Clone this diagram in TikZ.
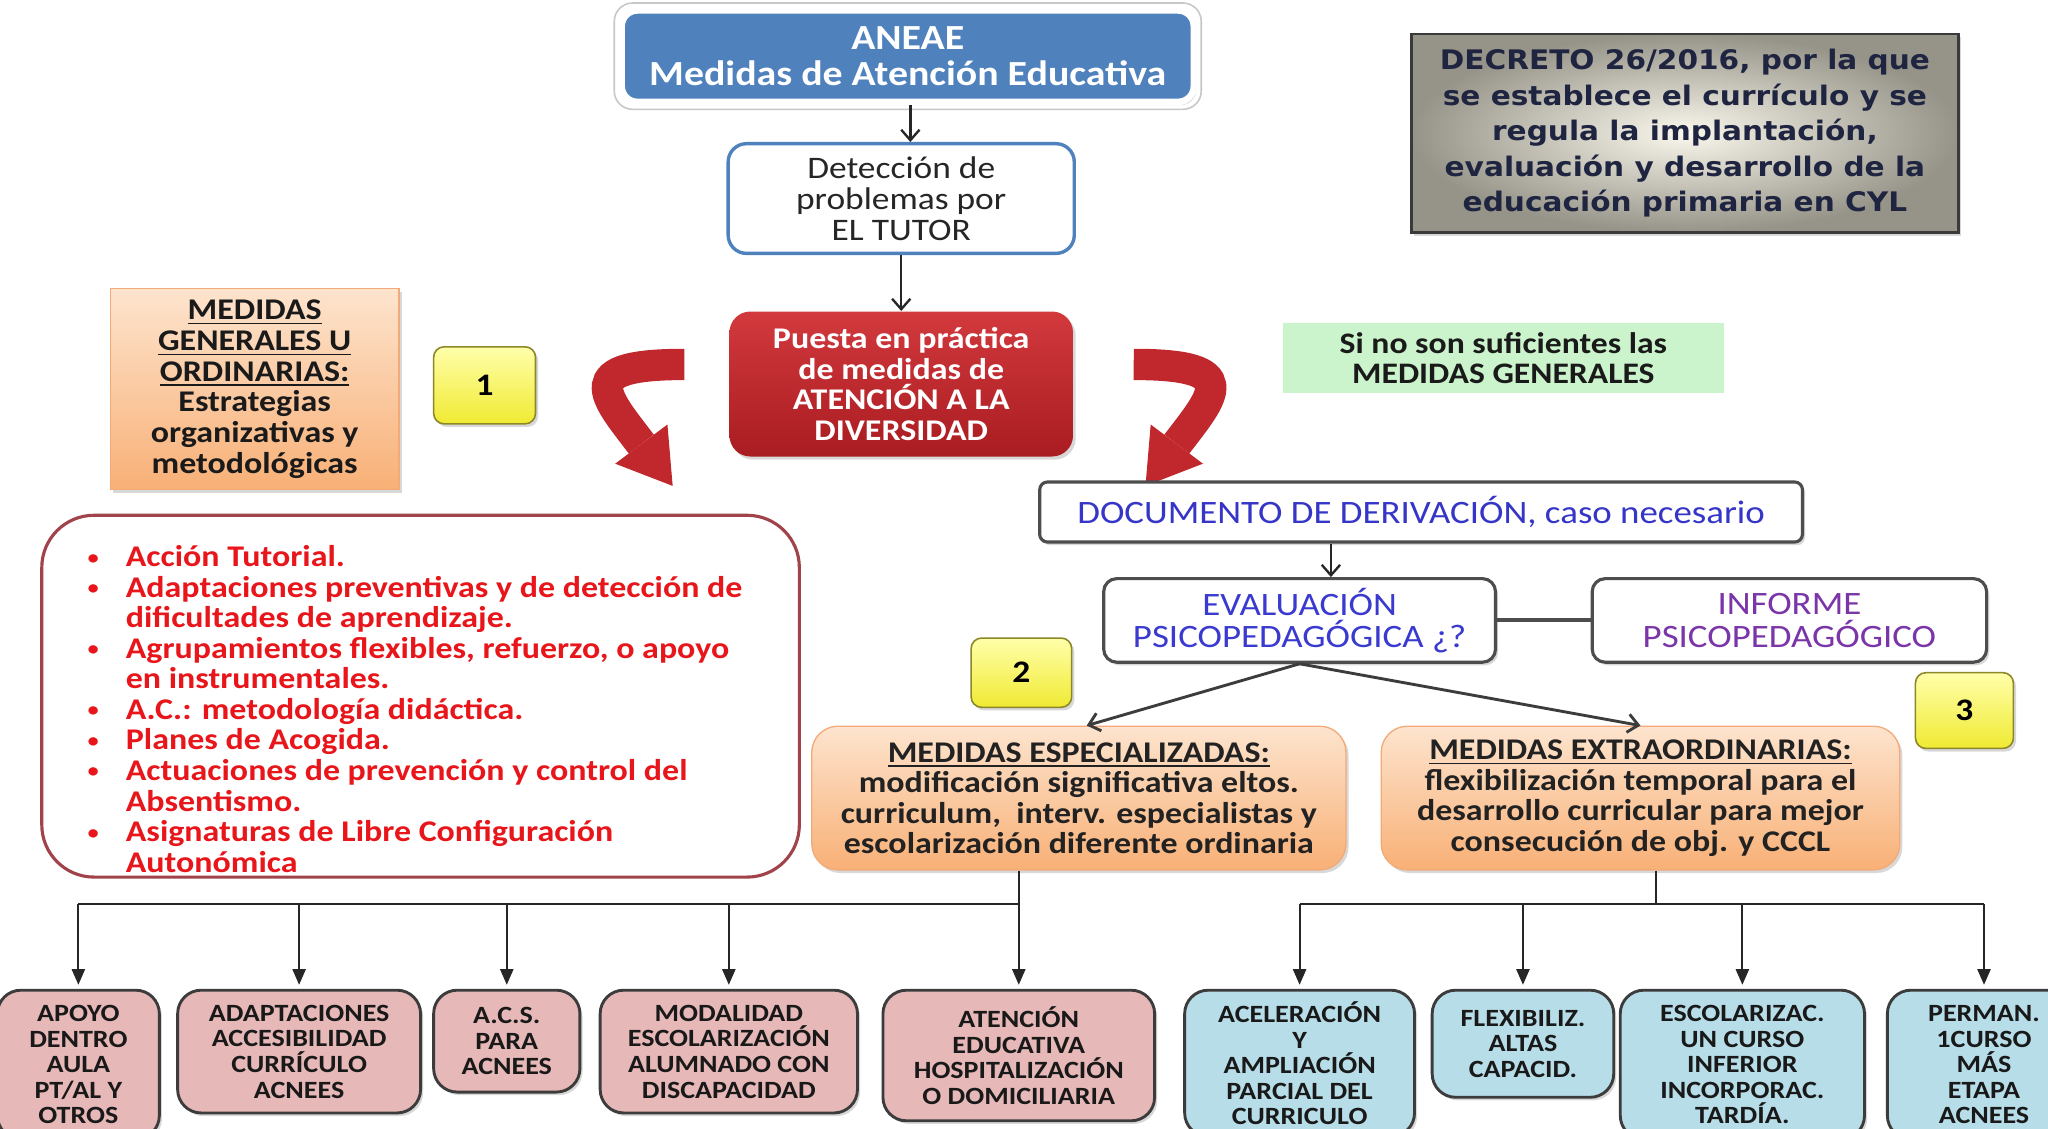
\documentclass[tikz,border=0pt]{standalone}
\usepackage{fontspec}
\setmainfont[FakeStretch=1.13]{Carlito}
\newfontfamily\verd[FakeStretch=1.1]{DejaVu Sans}
\usetikzlibrary{arrows.meta,shadows,calc}
\definecolor{blueb}{HTML}{4F81BD}
\definecolor{arrred}{HTML}{C0282E}
\definecolor{listred}{HTML}{E8161B}
\definecolor{listframe}{HTML}{A0434B}
\definecolor{pinkf}{HTML}{E6B8B7}
\definecolor{bluef}{HTML}{B7DDE8}
\definecolor{greenf}{HTML}{CCF4CC}
\definecolor{docblue}{HTML}{3535C8}
\definecolor{purp}{HTML}{7A35A8}
\definecolor{navy}{HTML}{1F2441}
\definecolor{dk}{HTML}{262626}
\newcommand\smbul{\raisebox{0.6pt}{\mdseries\fontsize{9}{9}\selectfont\textbullet}}
\begin{document}
\begin{tikzpicture}[x=0.5pt,y=-0.5pt,
  shad/.style={drop shadow={shadow xshift=1pt,shadow yshift=-1.2pt,opacity=0.3}},
  orangebox/.style={shad, top color={rgb,255:red,253;green,228;blue,206}, bottom color={rgb,255:red,248;green,176;blue,118}, draw={rgb,255:red,242;green,170;blue,120}, line width=0.5pt, align=center, inner sep=2pt},
  badge/.style={shad,rounded corners=4pt, top color={rgb,255:red,255;green,255;blue,170}, bottom color={rgb,255:red,240;green,234;blue,50}, draw={rgb,255:red,140;green,135;blue,40}, line width=0.6pt, font=\bfseries\fontsize{12}{12}\selectfont, text=black},
  whitebox/.style={shad,fill=white, draw={rgb,255:red,77;green,77;blue,77}, line width=1.2pt, rounded corners=3pt, align=center, inner sep=2pt},
  bottombox/.style={shad,anchor=north, rounded corners=9pt, draw={rgb,255:red,60;green,60;blue,60}, line width=1.1pt, align=center, inner sep=2pt, font=\bfseries\fontsize{9.5}{9.8}\selectfont, text={rgb,255:red,25;green,25;blue,25}},
  pinkbox/.style={bottombox, fill=pinkf},
  lbluebox/.style={bottombox, fill=bluef},
  ln/.style={draw=dk, line width=0.8pt},
  tarr/.style={ln, -{Triangle[width=5pt,length=6pt]}, shorten >=1.5pt},
  sarr/.style={draw=dk, line width=0.9pt, -{Straight Barb[length=4pt,width=7pt]}},
  band/.style={draw=arrred, line width=12pt}
]
\useasboundingbox (0,0) rectangle (1568,864);
\clip (0,0) rectangle (1568,864);
\fill[white] (0,0) rectangle (1568,864);

% top
\node[shad, fill=blueb, draw=white, line width=2.5pt, rounded corners=6pt, minimum width=219pt, minimum height=35pt, align=center, text=white, font=\bfseries\fontsize{13.5}{13.5}\selectfont] (aneae) at (695,43) {ANEAE\\Medidas de Atención Educativa};
\draw[draw=black!22, line width=0.6pt, rounded corners=7pt] ([shift={(-1.6pt,1.6pt)}]aneae.north west) rectangle ([shift={(1.6pt,-1.6pt)}]aneae.south east);

\node[fill=white, draw=blueb, line width=1.3pt, rounded corners=7pt, minimum width=132.5pt, minimum height=42pt, align=center, text=dk, font=\fontsize{12}{11.8}\selectfont] (detec) at (690,152) {Detección de\\problemas por\\EL TUTOR};

\node[shad, rounded corners=8pt, top color={rgb,255:red,210;green,57;blue,61}, bottom color={rgb,255:red,169;green,28;blue,33}, minimum width=131.5pt, minimum height=55.5pt, align=center, text=white, font=\bfseries\fontsize{11.5}{11.75}\selectfont] (puesta) at (690,294) {Puesta en práctica\\de medidas de\\ATENCIÓN A LA\\DIVERSIDAD};

\draw[sarr] (aneae.south -| 697,0) -- (detec.north -| 697,0);
\draw[sarr] (detec.south) -- (puesta.north);

\node[orangebox, minimum width=110.5pt, minimum height=77pt, text={rgb,255:red,26;green,26;blue,26}, font=\bfseries\fontsize{11.5}{11.8}\selectfont] (gen) at (195,298) {\underline{MEDIDAS}\\\underline{GENERALES U}\\\underline{ORDINARIAS:}\\Estrategias\\organizativas y\\metodológicas};

\node[badge, minimum width=39pt, minimum height=29.5pt] (n1) at (371,295) {1};
\node[badge, minimum width=38.5pt, minimum height=26.5pt] (n2) at (782,515) {2};
\node[badge, minimum width=37.5pt, minimum height=29pt] (n3) at (1504,544) {3};

\node[fill=greenf, minimum width=169pt, minimum height=27pt, align=center, text={rgb,255:red,26;green,26;blue,26}, font=\bfseries\fontsize{11.4}{11.5}\selectfont] (sino) at (1151,274) {Si no son suficientes las\\MEDIDAS GENERALES};

\node[shad, draw={rgb,255:red,58;green,58;blue,58}, line width=1pt, inner color={rgb,255:red,250;green,248;blue,236}, outer color={rgb,255:red,150;green,148;blue,136}, minimum width=209.5pt, minimum height=76pt, align=center, text=navy, font=\verd\bfseries\fontsize{10.3}{13.6}\selectfont] (decreto) at (1290,102) {DECRETO 26/2016, por la que\\se establece el currículo y se\\regula la implantación,\\evaluación y desarrollo de la\\educación primaria en CYL};

% curved arrows
\draw[band] (524,279) .. controls (440,279) and (462,302) .. (491,340);
\fill[arrred] (511,325) -- (515,372) -- (471,355) -- cycle;
\draw[band] (868,279) .. controls (952,279) and (930,302) .. (901,340);
\fill[arrred] (881,325) -- (877,372) -- (921,355) -- cycle;

% right column
\node[whitebox, minimum width=292pt, minimum height=23pt, text=docblue, font=\fontsize{12.5}{12.5}\selectfont] (doc) at (1088,392) {DOCUMENTO DE DERIVACIÓN, caso necesario};
\node[whitebox, rounded corners=5pt, minimum width=150pt, minimum height=32pt, text={rgb,255:red,58;green,58;blue,208}, font=\fontsize{12.5}{12.5}\selectfont] (eval) at (995,475) {EVALUACIÓN\\PSICOPEDAGÓGICA ¿?};
\node[whitebox, rounded corners=5pt, minimum width=151pt, minimum height=32pt, text=purp, font=\fontsize{12.5}{12.5}\selectfont] (inf) at (1370,475) {INFORME\\PSICOPEDAGÓGICO};

\draw[sarr] ([xshift=12pt]eval.north |- doc.south) -- ([xshift=12pt]eval.north);
\draw[draw={rgb,255:red,77;green,77;blue,77}, line width=1.5pt] (eval.east) -- (inf.west);

\node[orangebox, rounded corners=10pt, minimum width=204.5pt, minimum height=55pt, text={rgb,255:red,34;green,34;blue,34}, font=\bfseries\fontsize{11.5}{11.65}\selectfont] (esp) at (826,611) {\underline{MEDIDAS ESPECIALIZADAS:}\\modificación significativa eltos.\\curriculum,\ \ interv. especialistas y\\escolarización diferente ordinaria};
\node[orangebox, rounded corners=10pt, minimum width=198.5pt, minimum height=55pt, text={rgb,255:red,34;green,34;blue,34}, font=\bfseries\fontsize{11.5}{11.65}\selectfont] (ext) at (1256,611) {\underline{MEDIDAS EXTRAORDINARIAS:}\\flexibilización temporal para el\\desarrollo curricular para mejor\\consecución de obj. y CCCL};

\draw[sarr, draw={rgb,255:red,60;green,60;blue,60}, line width=1.1pt] (eval.south) -- ([xshift=3pt]esp.north);
\draw[sarr, draw={rgb,255:red,60;green,60;blue,60}, line width=1.1pt] (eval.south) -- (ext.north);

% red list
\node[fill=white, draw=listframe, line width=1.2pt, rounded corners=20pt, minimum width=290pt, minimum height=138.5pt] (rbox) at (322,533) {};
\node[anchor=north west, inner sep=0pt, text=listred, font=\bfseries\fontsize{11.5}{11.7}\selectfont] (rtext) at (66,417) {%
\begin{tabular}{@{}p{15pt}@{}l@{}}
\smbul & Acción Tutorial.\\
\smbul & Adaptaciones preventivas y de detección de\\
 & dificultades de aprendizaje.\\
\smbul & Agrupamientos flexibles, refuerzo, o apoyo\\
 & en instrumentales.\\
\smbul & A.C.: metodología didáctica.\\
\smbul & Planes de Acogida.\\
\smbul & Actuaciones de prevención y control del\\
 & Absentismo.\\
\smbul & Asignaturas de Libre Configuración\\
 & Autonómica
\end{tabular}};

% bottom boxes
\node[pinkbox, minimum width=62pt, minimum height=57pt] (b1) at (60,757) {APOYO\\DENTRO\\AULA\\PT/AL Y\\OTROS};
\node[pinkbox, minimum width=93pt, minimum height=47pt] (b2) at (229,757) {ADAPTACIONES\\ACCESIBILIDAD\\CURRÍCULO\\ACNEES};
\node[pinkbox, minimum width=56pt, minimum height=39pt] (b3) at (388,757) {A.C.S.\\PARA\\ACNEES};
\node[pinkbox, minimum width=98.5pt, minimum height=47pt] (b4) at (558,757) {MODALIDAD\\ESCOLARIZACIÓN\\ALUMNADO CON\\DISCAPACIDAD};
\node[pinkbox, minimum width=104pt, minimum height=50pt] (b5) at (780,757) {ATENCIÓN\\EDUCATIVA\\HOSPITALIZACIÓN\\O DOMICILIARIA};

\node[lbluebox, minimum width=88pt, minimum height=56pt] (r1) at (995,757) {ACELERACIÓN\\Y\\AMPLIACIÓN\\PARCIAL DEL\\CURRICULO};
\node[lbluebox, minimum width=69.5pt, minimum height=41pt] (r2) at (1166,757) {FLEXIBILIZ.\\ALTAS\\CAPACID.};
\node[lbluebox, minimum width=93.5pt, minimum height=57pt] (r3) at (1334,757) {ESCOLARIZAC.\\UN CURSO\\INFERIOR\\INCORPORAC.\\TARDÍA.};
\node[lbluebox, minimum width=74pt, minimum height=57pt] (r4) at (1519,757) {PERMAN.\\1CURSO\\MÁS\\ETAPA\\ACNEES};

% tree connectors
\coordinate (lj) at (780,692);
\coordinate (rj) at (1268,692);
\draw[ln] (esp.south -| lj) -- (lj);
\draw[ln] (b1.north |- lj) -- (lj);
\foreach \b in {b1,b2,b3,b4,b5} \draw[tarr] (\b.north |- lj) -- (\b.north);
\draw[ln] (ext.south -| rj) -- (rj);
\draw[ln] (r1.north |- rj) -- (r4.north |- rj);
\foreach \b in {r1,r2,r3,r4} \draw[tarr] (\b.north |- rj) -- (\b.north);
\end{tikzpicture}
\end{document}
